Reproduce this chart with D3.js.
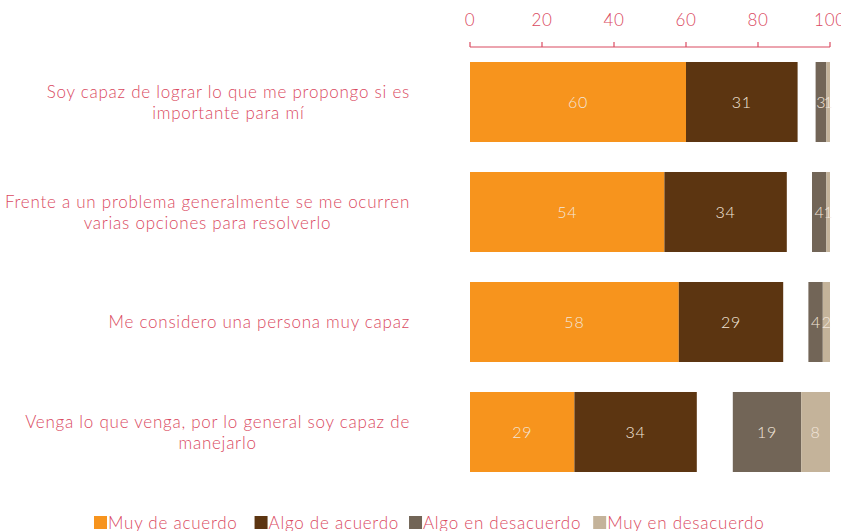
<!DOCTYPE html>
<html>
<head>
<meta charset="utf-8">
<script src="https://cdn.jsdelivr.net/npm/d3@7"></script>
<style>
  body { margin: 0; background: #fff; }
  text { font-family: Lato, "Open Sans", sans-serif; font-weight: 300; letter-spacing: 0.75px; }
</style>
</head>
<body>
<div id="chart"></div>
<script>
// data
const statements = [
  ["Soy capaz de lograr lo que me propongo si es", "importante para mí"],
  ["Frente a un problema generalmente se me ocurren", "varias opciones para resolverlo"],
  ["Me considero una persona muy capaz"],
  ["Venga lo que venga, por lo general soy capaz de", "manejarlo"]
];
const series = ["Muy de acuerdo", "Algo de acuerdo", "Algo en desacuerdo", "Muy en desacuerdo"];
const muyAcuerdo = [60, 54, 58, 29];
const algoAcuerdo = [31, 34, 29, 34];
const algoDesacuerdo = [3, 4, 4, 19];
const muyDesacuerdo = [1, 1, 2, 8];
const ticks = [0, 20, 40, 60, 80, 100];

const colors = ["#F7941D", "#5C3511", "#726557", "#C4B39A"];
const textColor = "#DA4A61";

const width = 841, height = 531;
const svg = d3.select("#chart").append("svg")
  .attr("width", width).attr("height", height);

const x = d3.scaleLinear().domain([0, 100]).range([470, 830]);
const y = d3.scaleBand().domain(d3.range(statements.length))
  .range([48.8, 485.2]).paddingInner(0.2727).paddingOuter(0.12);

// axis on top
const axis = svg.append("g").attr("transform", "translate(0,47)");
axis.append("line").attr("x1", x(0)).attr("x2", x(100)).attr("stroke", textColor).attr("stroke-width", 1.2);
axis.selectAll(".tick").data(ticks).enter().append("line")
  .attr("x1", d => x(d)).attr("x2", d => x(d))
  .attr("y1", -5).attr("y2", 0)
  .attr("stroke", textColor).attr("stroke-width", 1.2);
axis.selectAll(".lbl").data(ticks).enter().append("text")
  .attr("x", d => x(d)).attr("y", -21)
  .attr("text-anchor", "middle")
  .attr("fill", textColor).attr("font-size", 17)
  .text(d => d);

// segments: agree stacked from 0, disagree stacked to end at 100
const rows = statements.map((s, i) => {
  const a1 = muyAcuerdo[i], a2 = algoAcuerdo[i], d1 = algoDesacuerdo[i], d2 = muyDesacuerdo[i];
  return [
    { k: 0, v: a1, x0: 0, x1: a1 },
    { k: 1, v: a2, x0: a1, x1: a1 + a2 },
    { k: 2, v: d1, x0: 100 - d2 - d1, x1: 100 - d2 },
    { k: 3, v: d2, x0: 100 - d2, x1: 100 }
  ].map(d => Object.assign(d, { row: i }));
});

const segs = svg.selectAll(".seg").data(rows.flat()).enter().append("g");
segs.append("rect")
  .attr("x", d => x(d.x0))
  .attr("y", d => y(d.row))
  .attr("width", d => x(d.x1) - x(d.x0))
  .attr("height", y.bandwidth())
  .attr("fill", d => colors[d.k]);
segs.append("text")
  .attr("x", d => (x(d.x0) + x(d.x1)) / 2)
  .attr("y", d => y(d.row) + y.bandwidth() / 2)
  .attr("dy", "0.36em")
  .attr("text-anchor", "middle")
  .attr("fill", "#F3E6DA")
  .attr("font-size", 16)
  .style("letter-spacing", d => d.v < 5 ? "0px" : null)
  .text(d => d.v);

// category labels: centred lines, block right-aligned
const labelRight = 410;
statements.forEach((lines, i) => {
  const g = svg.append("g");
  const cy = y(i) + y.bandwidth() / 2;
  const lh = 21;
  const ts = lines.map((l, j) => g.append("text")
    .attr("y", cy + (j - (lines.length - 1) / 2) * lh)
    .attr("dy", "0.36em")
    .attr("text-anchor", "middle")
    .attr("fill", textColor).attr("font-size", 17)
    .text(l));
  const w = d3.max(ts, t => t.node().getComputedTextLength());
  ts.forEach(t => t.attr("x", labelRight - w / 2));
});

// legend
const legend = svg.append("g");
const gaps = [17, 10, 12];
let lx = 94;
series.forEach((s, i) => {
  legend.append("rect").attr("x", lx).attr("y", 516).attr("width", 13).attr("height", 13).attr("fill", colors[i]);
  const t = legend.append("text").attr("x", lx + 14).attr("y", 529)
    .attr("fill", textColor).attr("font-size", 17).text(s);
  lx += 14 + t.node().getComputedTextLength() + (gaps[i] || 0);
});
</script>
</body>
</html>
